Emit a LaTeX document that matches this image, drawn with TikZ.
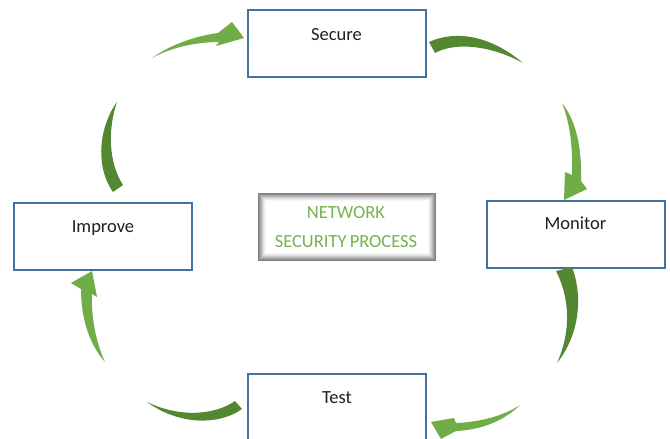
\documentclass[tikz,border=0pt]{standalone}
\usepackage{fontspec}
\setmainfont{Carlito}
\definecolor{boxblue}{RGB}{65,113,156}
\definecolor{lightgreen}{RGB}{112,173,71}
\definecolor{darkgreen}{RGB}{84,135,50}
\definecolor{titlegreen}{RGB}{118,178,80}
\tikzset{
  stepbox/.style={draw=boxblue, line width=2pt, fill=white, minimum width=178pt, minimum height=67pt, inner sep=0pt},
  lbl/.style={anchor=base, font=\fontsize{18.5}{22}\selectfont, text=black!88, inner sep=0pt},
  ttl/.style={anchor=base, font=\fontsize{18.5}{22}\selectfont, text=titlegreen, inner sep=0pt},
  headarrow/.style={fill=lightgreen, draw=none},
  tailarrow/.style={fill=darkgreen, draw=none}
}
\begin{document}
\begin{tikzpicture}[x=1pt,y=-1pt]
\useasboundingbox (0,0) rectangle (670,439);
\clip (0,0) rectangle (670,439);
\fill[white] (0,0) rectangle (670,439);

% boxes
\node[stepbox] (secure) at (336.5,43.5) {};
\node[stepbox] (monitor) at (575.5,234) {};
\node[stepbox] (improve) at (103,236) {};
\node[stepbox] (test) at (337,407) {};

\node[lbl] (securet) at ([yshift=-31pt]secure.north) {Secure};
\node[lbl] (monitort) at ([yshift=-30pt]monitor.north) {Monitor};
\node[lbl] (improvet) at ([yshift=-31pt]improve.north) {Improve};
\node[lbl] (testt) at ([yshift=-31pt]test.north) {Test};

% centre box with soft grey frame
\coordinate (cA) at (258,193);
\coordinate (cB) at (436,261);
\foreach \i/\g in {0/50,1/57,2/65,3/73,4/80,5/87,6/93,7/97,8/100}{
  \fill[black!\the\numexpr100-\g\relax!white] ([xshift=\i pt,yshift=-\i pt]cA) rectangle ([xshift=-\i pt,yshift=\i pt]cB);
}
\node[ttl] (net) at (346,218) {NETWORK};
\node[ttl] (sec) at (346,247) {SECURITY\kern-1pt\ PROCESS};

% tail: Secure -> (right)
\path[tailarrow] (429,42) .. controls (455,30) and (490,35) .. (523,63)
  .. controls (490,45) and (455,42) .. (435,53) -- cycle;
% head: -> Monitor
\path[headarrow] (562,103) .. controls (577,122) and (582,150) .. (581,181)
  -- (587,189) -- (564,200) -- (565,172) -- (572,175)
  .. controls (573,148) and (570,123) .. (562,103) -- cycle;
% tail: Monitor -> (down)
\path[tailarrow] (556,271) -- (572,267) .. controls (581,290) and (583,330) .. (557,363)
  .. controls (572,330) and (569,296) .. (556,271) -- cycle;
% head: -> Test
\path[headarrow] (520,405) .. controls (505,420) and (482,430) .. (456,431)
  -- (441,439) -- (431,422) -- (454,418) -- (456,423)
  .. controls (482,422) and (505,415) .. (520,405) -- cycle;
% tail: Test -> (left)
\path[tailarrow] (235,401) .. controls (215,415) and (180,418) .. (147,402)
  .. controls (180,426) and (220,425) .. (242,409) -- cycle;
% head: -> Improve
\path[headarrow] (105,362) .. controls (90,345) and (81,320) .. (81,289)
  -- (71,283) -- (92,271) -- (97,297) -- (92,294)
  .. controls (91,320) and (97,345) .. (105,362) -- cycle;
% tail: Improve -> (up)
\path[tailarrow] (117,102) .. controls (100,125) and (94,165) .. (113,192)
  -- (123,185) .. controls (108,162) and (108,128) .. (117,102) -- cycle;
% head: -> Secure
\path[headarrow] (152,58) .. controls (170,45) and (195,36) .. (218,33)
  -- (232,22) -- (244,38) -- (216,46) -- (219,42)
  .. controls (195,42) and (170,48) .. (152,58) -- cycle;
\end{tikzpicture}
\end{document}
